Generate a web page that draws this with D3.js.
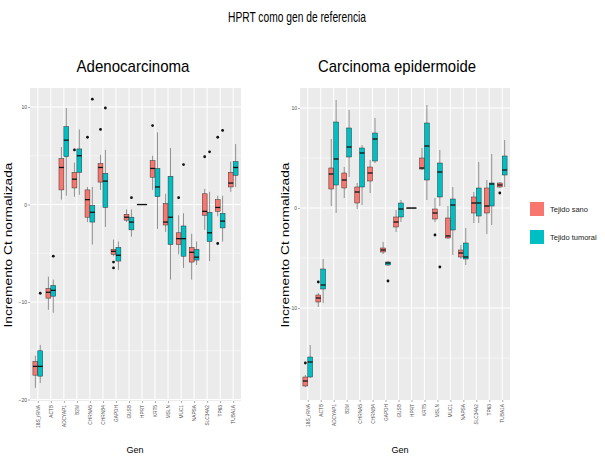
<html>
<head>
<meta charset="utf-8">
<style>
  body { margin: 0; background: #fff; }
  svg { font-family: 'Liberation Sans', Arial, sans-serif; }
  .tick-lab { font-size: 5px; fill: #4d4d4d; }
  .gene-lab { font-size: 4.8px; fill: #4d4d4d; }
</style>
</head>
<body>
<svg width="605" height="456"></svg>
<script src="https://cdn.jsdelivr.net/npm/d3@7"></script>
<script>
// genes on the x axis (same for both panels)
const genes = ["18S_rRNA", "ACTB", "ADCYAP1", "B2M", "CHRNA5", "CHRNB4", "GAPDH", "GUSB",
               "HPRT", "KRT5", "MSLN", "MUC1", "NAPSA", "SLC34A2", "TP63", "TUBA1A"]
const groups = ["Tejido sano", "Tejido tumoral"]
const yTicks = [-20, -10, 0, 10]

// box stats per gene: [low whisker, q1, median, q3, high whisker]
const adenoSano = [
  [-18.8, -17.5, -16.6, -16.1, -15.5], [-10.8, -9.6, -9.0, -8.6, -7.4], [0.5, 1.5, 3.8, 4.7, 5.9],
  [0.8, 1.7, 2.6, 3.3, 4.3], [-1.8, -1.3, 0.5, 1.5, 1.8], [1.5, 2.3, 3.8, 4.2, 5.1],
  [-5.3, -5.1, -4.8, -4.6, -3.6], [-1.8, -1.6, -1.3, -1.0, -0.5], [0, 0, 0, 0, 0],
  [1.5, 2.8, 3.7, 4.5, 5.0], [-2.8, -2.1, -1.8, 0.1, 1.1], [-5.1, -4.1, -3.5, -2.9, -1.1],
  [-7.7, -5.9, -4.9, -4.4, -3.0], [-2.6, -1.1, -0.7, 1.1, 1.6], [-1.2, -0.7, -0.3, 0.5, 0.9],
  [1.3, 1.8, 2.2, 3.3, 4.4]
]
const adenoTumoral = [
  [-18.3, -17.6, -16.6, -15.0, -14.4], [-11.1, -9.4, -8.8, -8.3, -7.7], [0.9, 4.9, 6.6, 8.0, 9.9],
  [1.0, 3.3, 5.0, 5.7, 7.7], [-4.1, -1.8, -0.8, -0.1, 1.8], [-2.3, -0.3, 2.4, 3.2, 5.6],
  [-6.7, -5.8, -5.2, -4.4, -3.8], [-3.3, -2.6, -1.8, -1.3, -0.5], [0, 0, 0, 0, 0],
  [-2.5, 0.8, 1.8, 3.7, 7.4], [-7.7, -4.1, -1.3, 2.9, 5.8], [-6.5, -5.3, -3.5, -2.2, -0.9],
  [-6.2, -5.7, -5.4, -4.6, -3.8], [-5.8, -3.8, -2.9, -0.8, 1.3], [-3.8, -2.4, -1.7, -0.9, 0.9],
  [1.8, 3.0, 3.8, 4.4, 6.2]
]
const epiSano = [
  [-17.9, -17.8, -17.3, -16.9, -16.7], [-9.9, -9.4, -9.0, -8.7, -8.5], [0.2, 1.9, 3.4, 4.0, 6.9],
  [1.0, 2.0, 2.8, 3.5, 4.1], [-0.1, 0.5, 1.6, 2.1, 2.5], [1.5, 2.7, 3.5, 4.1, 4.8],
  [-4.6, -4.4, -4.2, -4.0, -3.4], [-2.4, -1.9, -1.4, -0.9, -0.2], [0, 0, 0, 0, 0],
  [3.8, 3.9, 4.0, 5.0, 6.0], [-1.4, -1.1, -0.5, -0.1, 1.0], [-3.1, -3.0, -2.8, -1.0, 0.2],
  [-5.1, -4.9, -4.5, -4.2, -3.7], [-1.5, -0.5, 0.5, 1.1, 1.6], [-2.6, -0.5, 0.2, 2.0, 2.8],
  [2.0, 2.1, 2.3, 2.5, 2.6]
]
const epiTumoral = [
  [-17.0, -16.9, -15.4, -14.9, -13.7], [-9.5, -8.1, -7.7, -6.1, -5.1], [-0.5, 2.3, 4.9, 8.6, 10.8],
  [3.1, 5.1, 6.1, 8.0, 9.8], [0.3, 2.1, 5.5, 6.0, 6.3], [4.5, 4.7, 6.9, 7.5, 9.0],
  [-5.8, -5.7, -5.5, -5.4, -5.3], [-1.4, -0.9, -0.1, 0.5, 0.8], [0, 0, 0, 0, 0],
  [0.8, 2.8, 6.2, 8.5, 10.3], [0.2, 1.1, 3.6, 4.5, 5.8], [-4.7, -2.2, 0.3, 0.9, 2.1],
  [-5.7, -5.1, -4.9, -3.5, -2.0], [-1.5, -0.8, 0.5, 2.0, 4.6], [-1.7, 0.2, 2.4, 2.5, 5.4],
  [2.1, 3.3, 3.8, 5.2, 6.8]
]

// outliers: [gene index, value]
const adenoSanoOut = [[3, 5.6], [4, 6.9], [5, 7.7], [6, -5.9], [6, -6.5], [9, 8.1], [11, 0.7], [13, 4.9], [14, 6.9], [14, -4.0]]
const adenoTumoralOut = [[0, -9.1], [1, -5.3], [4, 10.8], [5, 9.9], [7, 0.7], [11, 4.1], [13, 5.4], [14, 7.6]]
const epiSanoOut = [[0, -15.5], [1, -7.4], [10, -2.7], [15, 1.5]]
const epiTumoralOut = [[6, -7.3], [10, -5.9]]

const colors = ["#F8766D", "#00BFC4"]

const svg = d3.select("svg")

svg.append("text")
  .attr("x", 297).attr("y", 22)
  .attr("text-anchor", "middle")
  .style("font-size", "15px")
  .attr("textLength", 138).attr("lengthAdjust", "spacingAndGlyphs")
  .text("HPRT como gen de referencia")

function drawPanel(opt) {
  let x = d3.scalePoint()
    .domain(genes)
    .range([opt.left, opt.right])
    .padding(0.6)

  let y = d3.scaleLinear()
    .domain(opt.ydomain)
    .range([opt.bottom, opt.top])

  let step = x.step()
  let bw = step * 0.375
  let g = svg.append("g")

  // title
  g.append("text")
    .attr("x", opt.titleX).attr("y", 72)
    .attr("text-anchor", "middle")
    .style("font-size", "17px")
    .attr("textLength", opt.titleW).attr("lengthAdjust", "spacingAndGlyphs")
    .text(opt.title)

  // background + grid
  g.append("rect")
    .attr("x", opt.left).attr("y", opt.top)
    .attr("width", opt.right - opt.left).attr("height", opt.bottom - opt.top)
    .attr("fill", "#EBEBEB")

  let minor = d3.range(-25, 15, 10).filter(v => y(v) > opt.top && y(v) < opt.bottom)
  g.selectAll(".minor").data(minor).join("line")
    .attr("x1", opt.left).attr("x2", opt.right)
    .attr("y1", d => y(d)).attr("y2", d => y(d))
    .attr("stroke", "#fff").attr("stroke-width", 0.5)

  let major = yTicks.filter(v => y(v) >= opt.top && y(v) <= opt.bottom)
  g.selectAll(".major").data(major).join("line")
    .attr("x1", opt.left).attr("x2", opt.right)
    .attr("y1", d => y(d)).attr("y2", d => y(d))
    .attr("stroke", "#fff").attr("stroke-width", 1)

  g.selectAll(".vgrid").data(genes).join("line")
    .attr("x1", d => x(d)).attr("x2", d => x(d))
    .attr("y1", opt.top).attr("y2", opt.bottom)
    .attr("stroke", "#fff").attr("stroke-width", 1)

  // y axis
  let yAxis = d3.axisLeft(y).tickValues(major).tickSize(2).tickPadding(1)
  g.append("g")
    .attr("transform", `translate(${opt.left},0)`)
    .call(yAxis)
    .call(a => a.select(".domain").remove())
    .call(a => a.selectAll("line").attr("stroke", "#555").attr("stroke-width", 0.5))
    .call(a => a.selectAll("text").attr("class", "tick-lab").attr("font-size", null).attr("font-family", null))

  // x axis
  let xAxis = d3.axisBottom(x).tickSize(2).tickPadding(2)
  g.append("g")
    .attr("transform", `translate(0,${opt.bottom})`)
    .call(xAxis)
    .call(a => a.select(".domain").remove())
    .call(a => a.selectAll("line").attr("stroke", "#555").attr("stroke-width", 0.5))
    .call(a => a.selectAll("text")
      .attr("class", "gene-lab").attr("font-size", null).attr("font-family", null)
      .attr("transform", "rotate(-90)")
      .attr("text-anchor", "end")
      .attr("dy", "0.32em")
      .attr("x", -4).attr("y", 0))

  g.append("text")
    .attr("x", opt.genX).attr("y", 453)
    .attr("text-anchor", "middle")
    .style("font-size", "9px")
    .text("Gen")

  // y title
  g.append("text")
    .attr("transform", `translate(${opt.ytitleX},245) rotate(-90)`)
    .attr("text-anchor", "middle")
    .style("font-size", "11px")
    .attr("textLength", 165).attr("lengthAdjust", "spacingAndGlyphs")
    .text("Incremento Ct normalizada")

  // boxes
  opt.stats.forEach((stats, gi) => {
    let off = gi === 0 ? -bw / 2 : bw / 2
    let bx = g.append("g").selectAll("g").data(stats).join("g")
      .attr("transform", (d, i) => `translate(${x(genes[i]) + off},0)`)

    bx.append("line")
      .attr("y1", d => y(d[0])).attr("y2", d => y(d[4]))
      .attr("stroke", "#555").attr("stroke-width", 0.6)
    bx.append("rect")
      .attr("x", -bw / 2).attr("width", bw)
      .attr("y", d => y(d[3])).attr("height", d => Math.max(0.3, y(d[1]) - y(d[3])))
      .attr("fill", colors[gi]).attr("stroke", "#333").attr("stroke-width", 0.5)
    bx.append("line")
      .attr("x1", -bw / 2).attr("x2", bw / 2)
      .attr("y1", d => y(d[2])).attr("y2", d => y(d[2]))
      .attr("stroke", "#111").attr("stroke-width", 1.3)

    g.append("g").selectAll("circle").data(opt.outliers[gi]).join("circle")
      .attr("cx", d => x(genes[d[0]]) + off)
      .attr("cy", d => y(d[1]))
      .attr("r", 1.4)
      .attr("fill", "#111")
  })
}

drawPanel({
  left: 30, right: 241, top: 88, bottom: 401,
  ydomain: [-20.15, 11.95],
  title: "Adenocarcinoma", titleX: 133, titleW: 113,
  genX: 135, ytitleX: 12,
  stats: [adenoSano, adenoTumoral],
  outliers: [adenoSanoOut, adenoTumoralOut]
})

drawPanel({
  left: 300, right: 510, top: 88, bottom: 400,
  ydomain: [-19.2, 12.0],
  title: "Carcinoma epidermoide", titleX: 397, titleW: 158,
  genX: 400, ytitleX: 289,
  stats: [epiSano, epiTumoral],
  outliers: [epiSanoOut, epiTumoralOut]
})

// legend
const legend = svg.append("g").attr("transform", "translate(530,202)")
  .selectAll("g").data(groups).join("g")
  .attr("transform", (d, i) => `translate(0,${i * 28})`)
legend.append("rect")
  .attr("width", 14).attr("height", 14)
  .attr("fill", (d, i) => colors[i])
legend.append("text")
  .attr("x", 20).attr("y", 10)
  .style("font-size", "7.5px")
  .style("fill", "#222")
  .text(d => d)
</script>
</body>
</html>
